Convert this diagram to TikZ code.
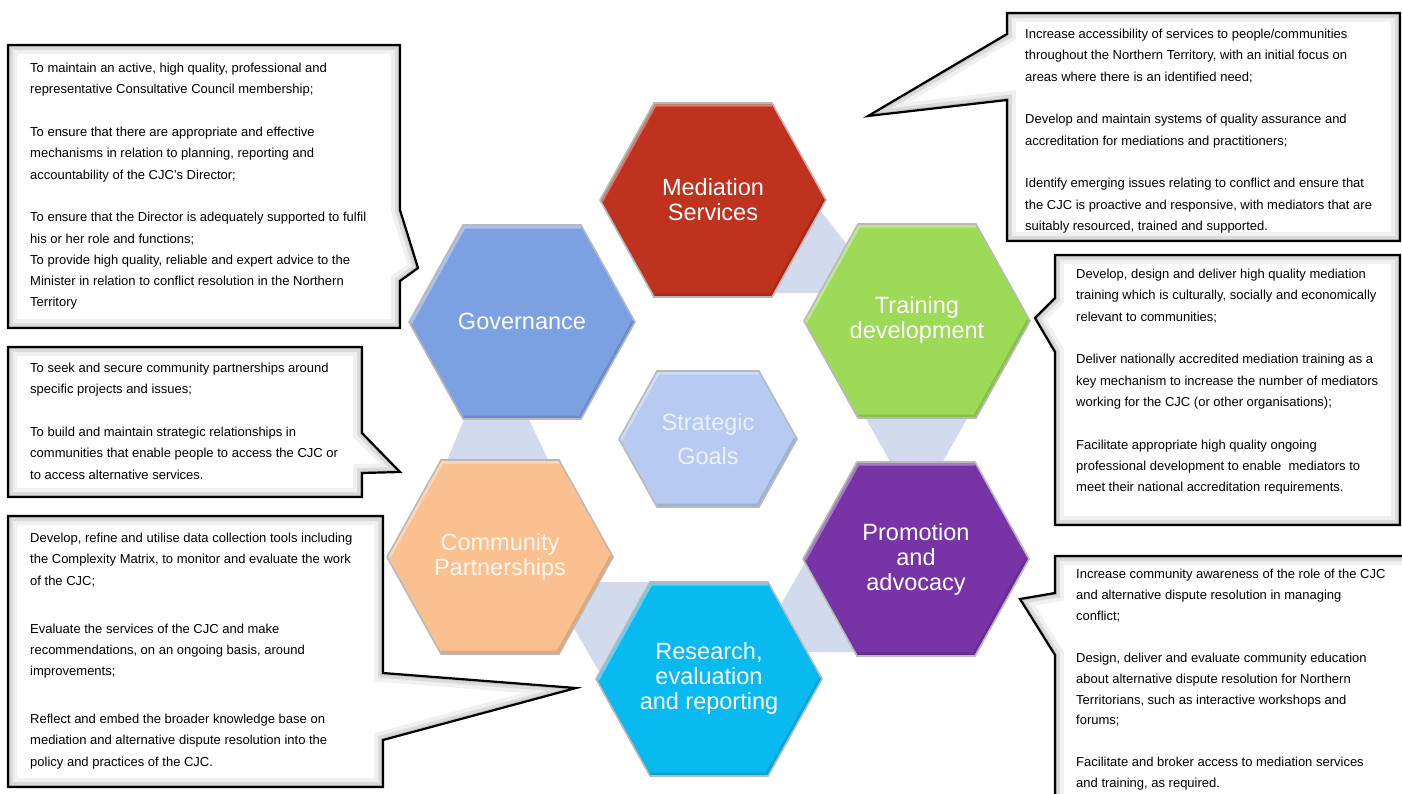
\documentclass[tikz,border=0pt]{standalone}
\usepackage{fontspec}
\setmainfont{Liberation Sans}
\definecolor{medc}{RGB}{190,50,30}
\definecolor{govc}{RGB}{124,161,226}
\definecolor{trnc}{RGB}{156,218,88}
\definecolor{strc}{RGB}{182,202,242}
\definecolor{strt}{RGB}{236,241,252}
\definecolor{comc}{RGB}{251,192,143}
\definecolor{proc}{RGB}{120,52,166}
\definecolor{resc}{RGB}{8,186,240}
\definecolor{bandc}{RGB}{210,218,238}
\tikzset{
  hexlabel/.style={inner sep=0pt, align=center, text=white, font=\fontsize{23.5}{25}\selectfont},
  boxtext/.style={inner sep=0pt, anchor=north west, align=left, font=\fontsize{13}{21.3}\selectfont},
  bandfill/.style={fill=bandc},
  hexedge/.style={draw=gray!55, line width=1.6pt, line join=miter},
  calloutline/.style={draw=black, line width=2.2pt, line join=miter},
}
% cx cy rx halftop ry colour
\newcommand\hexshape[6]{%
  \fill[#6] ({#1-#3},{#2}) -- ({#1-#4},{#2-#5}) -- ({#1+#4},{#2-#5}) -- ({#1+#3},{#2}) -- ({#1+#4},{#2+#5}) -- ({#1-#4},{#2+#5}) -- cycle;
  \begin{scope}
    \clip ({#1-#3},{#2}) -- ({#1-#4},{#2-#5}) -- ({#1+#4},{#2-#5}) -- ({#1+#3},{#2}) -- ({#1+#4},{#2+#5}) -- ({#1-#4},{#2+#5}) -- cycle;
    \draw[white, opacity=.35, line width=7pt] ({#1-#3},{#2}) -- ({#1-#4},{#2-#5}) -- ({#1+#4},{#2-#5});
    \draw[black, opacity=.12, line width=7pt] ({#1+#3},{#2}) -- ({#1+#4},{#2+#5}) -- ({#1-#4},{#2+#5});
  \end{scope}
  \draw[hexedge] ({#1-#3},{#2}) -- ({#1-#4},{#2-#5}) -- ({#1+#4},{#2-#5}) -- ({#1+#3},{#2}) -- ({#1+#4},{#2+#5}) -- ({#1-#4},{#2+#5}) -- cycle;
}
\newcommand\calloutshape[1]{%
  \fill[white] #1;
  \begin{scope}
    \clip #1;
    \draw[gray!12, line width=18pt] #1;
    \draw[gray!28, line width=10pt] #1;
    \draw[gray!50, line width=4pt] #1;
  \end{scope}
  \draw[calloutline] #1;
}
\begin{document}
\begin{tikzpicture}[x=1pt, y=-1pt]
\useasboundingbox (0,0) rectangle (1402,793);
\clip (0,0) rectangle (1402,793);
\fill[white] (0,0) rectangle (1402,793);

% connecting bands
\fill[bandfill] (806,192) -- (858,259) -- (835,293) -- (760,293) -- cycle;
\fill[bandfill] (861,410) -- (972,410) -- (938,470) -- (895,470) -- cycle;
\fill[bandfill] (770,623) -- (806,561) -- (830,560) -- (862,652) -- (795,652) -- cycle;
\fill[bandfill] (570,582) -- (668,582) -- (640,650) -- (610,690) -- (565,613) -- cycle;
\fill[bandfill] (470,405) -- (522,405) -- (553,470) -- (443,470) -- cycle;

% hexagons
\hexshape{713}{200}{113}{59}{97}{medc}
\hexshape{522}{322}{113}{59}{97}{govc}
\hexshape{917}{321}{113}{59}{97}{trnc}
\hexshape{708}{439}{89}{51}{68}{strc}
\hexshape{500}{557}{113}{59}{97}{comc}
\hexshape{916}{559}{113}{59}{97}{proc}
\hexshape{709}{679}{113}{59}{97}{resc}

\node[hexlabel] (med) at (713,200) {Mediation\\Services};
\node[hexlabel] (gov) at (522,321) {Governance};
\node[hexlabel] (trn) at (917,320) {Training\\development};
\node[hexlabel, text=strt, font=\fontsize{23.5}{33.5}\selectfont] (str) at (708,439) {Strategic\\Goals};
\node[hexlabel, text={rgb,255:red,255;green,248;blue,240}] (com) at (500,557) {Community\\Partnerships};
\node[hexlabel] (pro) at (916,559) {Promotion\\and\\advocacy};
\node[hexlabel] (res) at (709,678) {Research,\\evaluation\\and reporting};

% callouts
\calloutshape{(8,45) -- (400,45) -- (400,210) -- (418,268) -- (400,281) -- (400,328) -- (8,328) -- cycle}
\calloutshape{(8,347) -- (362,347) -- (362,433) -- (400,472) -- (362,473) -- (362,497) -- (8,497) -- cycle}
\calloutshape{(8,516) -- (383,516) -- (383,673) -- (576,688) -- (383,740) -- (383,787) -- (8,787) -- cycle}
\calloutshape{(1007,13) -- (1400,13) -- (1400,241) -- (1007,241) -- (1007,100) -- (868,116) -- (1007,34) -- cycle}
\calloutshape{(1055,255) -- (1400,255) -- (1400,525) -- (1055,525) -- (1055,352) -- (1035,318) -- (1055,298) -- cycle}
\calloutshape{(1055,556) -- (1420,556) -- (1420,820) -- (1055,820) -- (1055,655) -- (1020,599) -- (1055,593) -- cycle}

\node[boxtext] (ta) at (30,63) {To maintain an active, high quality, professional and\\
representative Consultative Council membership;\\[21.3pt]
To ensure that there are appropriate and effective\\
mechanisms in relation to planning, reporting and\\
accountability of the CJC’s Director;\\[21.3pt]
To ensure that the Director is adequately supported to fulfil\\
his or her role and functions;\\
To provide high quality, reliable and expert advice to the\\
Minister in relation to conflict resolution in the Northern\\
Territory};

\node[boxtext] (tb) at (30,363) {To seek and secure community partnerships around\\
specific projects and issues;\\[21.3pt]
To build and maintain strategic relationships in\\
communities that enable people to access the CJC or\\
to access alternative services.};

\node[boxtext] (tc) at (30,533) {Develop, refine and utilise data collection tools including\\
the Complexity Matrix, to monitor and evaluate the work\\
of the CJC;\\[26.5pt]
Evaluate the services of the CJC and make\\
recommendations, on an ongoing basis, around\\
improvements;\\[26.5pt]
Reflect and embed the broader knowledge base on\\
mediation and alternative dispute resolution into the\\
policy and practices of the CJC.};

\node[boxtext] (td) at (1025,29) {Increase accessibility of services to people/communities\\
throughout the Northern Territory, with an initial focus on\\
areas where there is an identified need;\\[21.3pt]
Develop and maintain systems of quality assurance and\\
accreditation for mediations and practitioners;\\[21.3pt]
Identify emerging issues relating to conflict and ensure that\\
the CJC is proactive and responsive, with mediators that are\\
suitably resourced, trained and supported.};

\node[boxtext] (te) at (1076,269) {Develop, design and deliver high quality mediation\\
training which is culturally, socially and economically\\
relevant to communities;\\[21.3pt]
Deliver nationally accredited mediation training as a\\
key mechanism to increase the number of mediators\\
working for the CJC (or other organisations);\\[21.3pt]
Facilitate appropriate high quality ongoing\\
professional development to enable~ mediators to\\
meet their national accreditation requirements.};

\node[boxtext, font=\fontsize{13}{20.9}\selectfont] (tf) at (1076,569) {Increase community awareness of the role of the CJC\\
and alternative dispute resolution in managing\\
conflict;\\[20.9pt]
Design, deliver and evaluate community education\\
about alternative dispute resolution for Northern\\
Territorians, such as interactive workshops and\\
forums;\\[20.9pt]
Facilitate and broker access to mediation services\\
and training, as required.};
\end{tikzpicture}
\end{document}
